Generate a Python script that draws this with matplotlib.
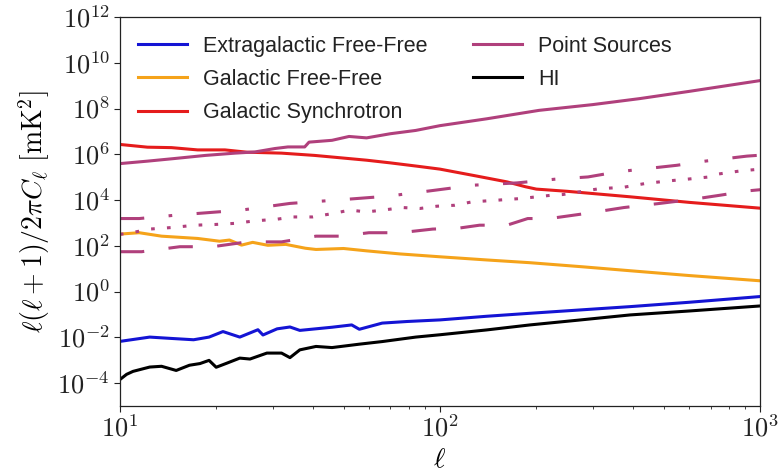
import numpy as np
import matplotlib
matplotlib.use('Agg')
import matplotlib.pyplot as plt
from matplotlib.ticker import FixedLocator, FuncFormatter, NullLocator, LogLocator

plt.rcParams['mathtext.fontset'] = 'cm'

# ---------------- data ----------------
ell_sync = [10, 12.2, 14.5, 17.5, 21.3, 25, 32, 40.6, 59, 70, 85, 100, 130, 162, 185, 200, 250, 393, 600, 1000]
sync = [2.69e6, 2.04e6, 1.95e6, 1.55e6, 1.55e6, 1.23e6, 1.12e6, 8.9e5, 5.5e5, 4.2e5, 3.0e5, 2.24e5,
        1.12e5, 6.2e4, 3.8e4, 3.0e4, 2.4e4, 1.38e4, 7.9e3, 4.4e3]

ell_gff = [10, 11.5, 13.5, 17.5, 20.5, 22, 24, 26, 29, 33, 38, 41, 50, 59, 75, 100, 140, 191, 280, 393, 600, 1000]
gal_ff = [324, 372, 263, 209, 158, 178, 107, 141, 105, 115, 78, 69, 76, 60, 44, 33, 24, 18.2, 12.0, 8.1, 5.0, 2.95]

ell_eff = [10, 12.4, 14.5, 17, 19, 21, 23.7, 27, 28, 31, 34, 36.5, 46, 53, 56, 66, 79, 100, 140, 191, 393, 600, 1000]
extra_ff = [6.6e-3, 1.02e-2, 8.9e-3, 7.8e-3, 1.02e-2, 1.78e-2, 1.02e-2, 2.14e-2, 1.26e-2, 2.34e-2, 2.82e-2,
            2.0e-2, 2.75e-2, 3.47e-2, 2.24e-2, 4.17e-2, 4.9e-2, 5.75e-2, 8.3e-2, 0.112, 0.219, 0.339, 0.603]

ell_hi = [10, 10.5, 11, 12.4, 13.5, 15, 16.5, 17.8, 19, 20, 21.6, 23.7, 25.5, 28.8, 32, 34, 36.5, 41, 46,
          56, 66, 84, 100, 140, 191, 270, 393, 600, 1000]
hi = [1.41e-4, 2.4e-4, 3.24e-4, 5.0e-4, 5.4e-4, 3.55e-4, 6.0e-4, 7.1e-4, 9.8e-4, 4.9e-4, 7.4e-4, 1.23e-3,
      1.12e-3, 2.04e-3, 2.04e-3, 1.29e-3, 2.82e-3, 3.98e-3, 3.55e-3, 5.0e-3, 6.5e-3, 1.02e-2, 1.29e-2,
      2.1e-2, 3.47e-2, 5.6e-2, 9.5e-2, 0.141, 0.234]

ell_ps = [10, 12.2, 14.8, 18.5, 22.9, 26.4, 30.5, 33.5, 37.8, 39, 46, 52, 59, 70, 84, 100, 140, 204, 300, 420, 600, 1000]
ps_solid = [3.9e5, 5.0e5, 6.5e5, 8.9e5, 1.12e6, 1.26e6, 1.78e6, 2.09e6, 2.09e6, 3.39e6, 4.07e6, 6.0e6,
            5.2e6, 7.9e6, 1.1e7, 1.78e7, 3.55e7, 8.3e7, 1.48e8, 2.7e8, 5.6e8, 1.66e9]

ell_psdd = [10, 11.5, 15, 24, 34, 50, 69, 93, 128, 174, 228, 290, 358, 440, 550, 665, 785, 910, 1000]
ps_dashdot = [1.55e3, 1.55e3, 2.19e3, 3.63e3, 7.1e3, 1.05e4, 1.48e4, 2.51e4, 4.47e4, 5.6e4, 8.1e4, 1.02e5,
              1.70e5, 2.34e5, 3.3e5, 4.9e5, 6.5e5, 8.3e5, 9.1e5]

ell_psdot = [10, 10.7, 12.4, 14.6, 17.2, 19.8, 22.9, 26.4, 30.9, 34.7, 40, 46.3, 52.3, 59, 66.3, 76.6, 86.6,
             97.9, 111, 126, 150, 180, 223, 242, 316, 372, 437, 512, 591, 684, 735, 866, 1000]
ps_dotted = [316, 355, 537, 631, 794, 851, 955, 1230, 1445, 1820, 1820, 2570, 3630, 3020, 3630, 4680, 4270,
             5370, 5890, 8320, 9770, 1.17e4, 1.62e4, 1.74e4, 3.16e4, 3.55e4, 5.25e4, 6.76e4, 8.13e4, 1.0e5,
             1.35e5, 1.86e5, 2.24e5]

ell_psdash = [10, 11.7, 15.4, 19.5, 25, 32, 41, 49, 60, 75, 95, 113, 133, 162, 188, 220, 285, 375, 485, 610,
              750, 915, 1000]
ps_dashed = [55, 55, 91, 91, 148, 148, 263, 263, 372, 372, 537, 575, 794, 794, 1550, 1550, 2570, 4680, 7080,
             1.05e4, 1.62e4, 2.51e4, 2.82e4]

labels = ['Extragalactic Free-Free', 'Galactic Free-Free', 'Galactic Synchrotron', 'Point Sources', 'HI']
c_blue = '#1414d4'
c_orange = '#f5a31a'
c_red = '#e51c1c'
c_ps = '#b0407c'
c_black = 'black'

ytick_exps = [-4, -2, 0, 2, 4, 6, 8, 10, 12]
xtick_exps = [1, 2, 3]

# ---------------- figure ----------------
fig = plt.figure(figsize=(7.78, 4.72), dpi=100)
ax = fig.add_axes([0.154, 0.140, 0.823, 0.824])
lw = 2.2

l1, = ax.plot(ell_eff, extra_ff, color=c_blue, lw=lw)
l2, = ax.plot(ell_gff, gal_ff, color=c_orange, lw=lw)
l3, = ax.plot(ell_sync, sync, color=c_red, lw=lw)
l4, = ax.plot(ell_ps, ps_solid, color=c_ps, lw=lw)
ax.plot(ell_psdd, ps_dashdot, color=c_ps, lw=lw, linestyle=(0, (8, 8, 1.2, 8)))
ax.plot(ell_psdot, ps_dotted, color=c_ps, lw=lw, linestyle=(0, (1.2, 4)))
ax.plot(ell_psdash, ps_dashed, color=c_ps, lw=lw, linestyle=(0, (8, 8)))
l5, = ax.plot(ell_hi, hi, color=c_black, lw=lw)

ax.set_xscale('log')
ax.set_yscale('log')
ax.set_xlim(10, 1000)
ax.set_ylim(1e-5, 1e12)

ax.yaxis.set_major_locator(FixedLocator([10.0 ** e for e in ytick_exps]))
ax.yaxis.set_minor_locator(NullLocator())
ax.yaxis.set_major_formatter(FuncFormatter(lambda v, p: r'$10^{%d}$' % int(round(np.log10(v)))))
ax.xaxis.set_major_locator(FixedLocator([10.0 ** e for e in xtick_exps]))
ax.xaxis.set_minor_locator(LogLocator(base=10, subs=np.arange(2, 10)))
ax.xaxis.set_major_formatter(FuncFormatter(lambda v, p: r'$10^{%d}$' % int(round(np.log10(v)))))

ax.tick_params(which='major', direction='out', length=4, width=0.8, labelsize=19, pad=3, colors='#222222')
ax.tick_params(which='minor', direction='out', length=2.5, width=0.6, colors='#222222')
for s in ax.spines.values():
    s.set_linewidth(0.9)
    s.set_color('#222222')

ax.set_xlabel(r'$\ell$', fontsize=20, labelpad=2)
ax.set_ylabel(r'$\ell(\ell+1)/2\pi C_\ell\ [\mathrm{mK}^2]$', fontsize=20, labelpad=4)

leg = ax.legend([l1, l2, l3, l4, l5], labels, ncol=2, loc='upper left',
                bbox_to_anchor=(0.028, 0.952), borderaxespad=0, borderpad=0,
                frameon=False, handlelength=2.28, handletextpad=0.75, columnspacing=2.1,
                labelspacing=0.57, prop={'family': 'Liberation Sans', 'size': 15.5})
for t in leg.get_texts():
    t.set_color('#222222')

fig.savefig('out.png', dpi=100)
